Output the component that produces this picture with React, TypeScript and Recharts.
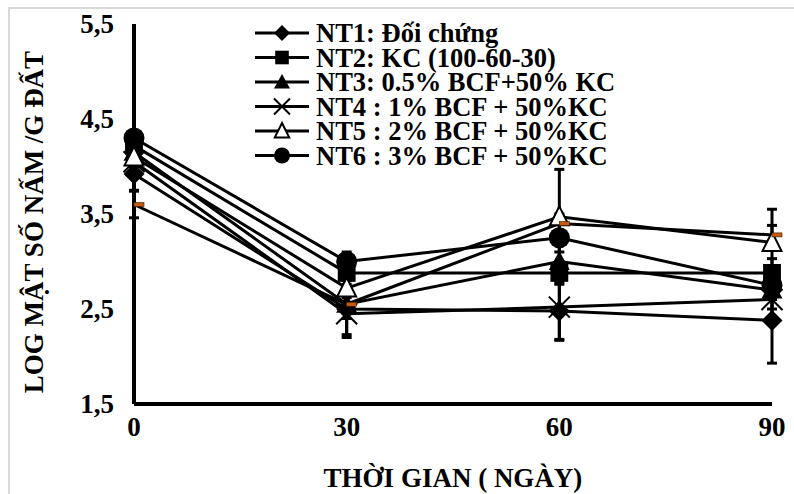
import { LineChart, Line, XAxis, YAxis, ErrorBar } from "recharts";

const DAYS = [0, 30, 60, 90];
const Y_TICKS = [1.5, 2.5, 3.5, 4.5, 5.5];

// log mật số nấm
const NT1 = [3.92, 2.5, 2.48, 2.38];
const NT2 = [4.22, 2.88, 2.88, 2.88];
const NT3 = [4.15, 2.55, 3.0, 2.7];
const NT4 = [4.05, 2.45, 2.52, 2.6];
const NT5 = [4.1, 2.72, 3.47, 3.2];
const NT6 = [4.3, 3.0, 3.25, 2.75];
const EXTRA = [3.6, 2.55, 3.4, 3.28]; // unlabeled orange dash series

const NT1_ERR = [0.17, 0.3, 0.3, 0.45];
const NT2_ERR = [0.1, 0.12, 0.12, 0.15];
const NT3_ERR = [0.1, 0.15, 0.2, 0.2];
const NT4_ERR = [0.1, 0.22, 0.35, 0.2];
const NT5_ERR = [0.1, 0.1, 0.5, 0.35];
const NT6_ERR = [0.05, 0.1, 0.15, 0.15];
const EXTRA_ERR = [0.14, 0.1, 0.1, 0.1];

const SERIES = [
  { key: "nt1", name: "NT1: Đối chứng", values: NT1, errors: NT1_ERR, marker: "diamond" },
  { key: "nt2", name: "NT2: KC (100-60-30)", values: NT2, errors: NT2_ERR, marker: "square" },
  { key: "nt3", name: "NT3: 0.5% BCF+50% KC", values: NT3, errors: NT3_ERR, marker: "triangle" },
  { key: "nt4", name: "NT4 : 1% BCF + 50%KC", values: NT4, errors: NT4_ERR, marker: "cross" },
  { key: "nt5", name: "NT5 : 2% BCF + 50%KC", values: NT5, errors: NT5_ERR, marker: "openTriangle" },
  { key: "nt6", name: "NT6 : 3% BCF + 50%KC", values: NT6, errors: NT6_ERR, marker: "circle" },
  { key: "extra", name: "", values: EXTRA, errors: EXTRA_ERR, marker: "dash" },
];

const data = DAYS.map((day, i) => {
  const row: Record<string, number> = { day };
  SERIES.forEach((s) => {
    row[s.key] = s.values[i];
    row[s.key + "Err"] = s.errors[i];
  });
  return row;
});

const FONT = "Liberation Serif, Times New Roman, serif";

function Marker({ kind, cx, cy, s }: { kind: string; cx: number; cy: number; s: number }) {
  const h = s / 2;
  switch (kind) {
    case "diamond":
      return <polygon points={`${cx},${cy - h} ${cx + h},${cy} ${cx},${cy + h} ${cx - h},${cy}`} fill="#000" />;
    case "square":
      return <rect x={cx - h * 0.85} y={cy - h * 0.85} width={s * 0.85} height={s * 0.85} fill="#000" />;
    case "triangle":
      return <polygon points={`${cx},${cy - h} ${cx + h},${cy + h * 0.8} ${cx - h},${cy + h * 0.8}`} fill="#000" />;
    case "openTriangle":
      return (
        <polygon
          points={`${cx},${cy - h} ${cx + h * 0.9},${cy + h * 0.8} ${cx - h * 0.9},${cy + h * 0.8}`}
          fill="#fff"
          stroke="#000"
          strokeWidth={2}
        />
      );
    case "cross":
      return (
        <g stroke="#000" strokeWidth={2}>
          <line x1={cx - h} y1={cy - h} x2={cx + h} y2={cy + h} />
          <line x1={cx - h} y1={cy + h} x2={cx + h} y2={cy - h} />
        </g>
      );
    case "circle":
      return <circle cx={cx} cy={cy} r={h} fill="#000" />;
    case "dash":
      return <rect x={cx} y={cy - 2} width={10} height={4} fill="#c55a11" stroke="#3a1a00" strokeWidth={0.6} />;
    default:
      return null;
  }
}

function XTick({ x, y, payload }: any) {
  return (
    <text x={x} y={y + 14} textAnchor="middle" fontFamily={FONT} fontWeight="bold" fontSize={27} fill="#000">
      {payload.value}
    </text>
  );
}

function YTick({ x, y, payload }: any) {
  return (
    <text x={x} y={y + 9} textAnchor="end" fontFamily={FONT} fontWeight="bold" fontSize={27} fill="#000">
      {Number(payload.value).toFixed(1).replace(".", ",")}
    </text>
  );
}

function renderYLabel() {
  return (
    <text
      x={43}
      y={222}
      transform="rotate(-90 43 222)"
      textAnchor="middle"
      fontFamily={FONT}
      fontWeight="bold"
      fontSize={27}
      fill="#000"
    >
      LOG MẬT SỐ NẤM /G ĐẤT
    </text>
  );
}

function renderXLabel() {
  return (
    <text x={453} y={487} textAnchor="middle" fontFamily={FONT} fontWeight="bold" fontSize={27} fill="#000">
      THỜI GIAN ( NGÀY)
    </text>
  );
}

const ROW = 24.5;
const PAD = 12;

function LegendBox() {
  return (
    <svg width={370} height={175} style={{ position: "absolute", left: 255, top: 21 - PAD }}>
      {SERIES.filter((s) => s.name).map((s, i) => (
        <g key={s.key}>
          <line x1={0} y1={PAD + 12 + i * ROW} x2={54} y2={PAD + 12 + i * ROW} stroke="#000" strokeWidth={3} />
          <Marker kind={s.marker} cx={27} cy={PAD + 12 + i * ROW} s={16} />
          <text x={61} y={PAD + 21 + i * ROW} fontFamily={FONT} fontWeight="bold" fontSize={26.5} fill="#000">
            {s.name}
          </text>
        </g>
      ))}
    </svg>
  );
}

export default function App() {
  return (
    <div
      style={{
        position: "absolute",
        left: 0,
        top: 0,
        width: 794,
        height: 494,
        background: "#fff",
        overflow: "hidden",
        fontFamily: FONT,
      }}
    >
      <div
        style={{
          position: "absolute",
          left: 8,
          top: 7,
          right: -2,
          bottom: -2,
          borderLeft: "2px solid #d9d9d9",
          borderTop: "2px solid #d9d9d9",
        }}
      />
      <LineChart width={794} height={494} data={data} margin={{ top: 24, right: 22, bottom: 0, left: 0 }}>
        <XAxis
          dataKey="day"
          type="number"
          domain={[0, 90]}
          ticks={DAYS}
          height={90}
          tickLine={false}
          tickMargin={12}
          axisLine={{ stroke: "#000", strokeWidth: 4 }}
          tick={<XTick />}
          label={renderXLabel}
        />
        <YAxis
          type="number"
          domain={[1.5, 5.5]}
          ticks={Y_TICKS}
          width={134}
          tickLine={false}
          tickMargin={14}
          allowDataOverflow
          axisLine={{ stroke: "#000", strokeWidth: 4 }}
          tick={<YTick />}
          label={renderYLabel}
        />
        {SERIES.map((s) => (
          <Line
            key={s.key}
            dataKey={s.key}
            stroke="#000"
            strokeWidth={3}
            isAnimationActive={false}
            activeDot={false}
            dot={(p: any) => <Marker key={`${s.key}-${p.index}`} kind={s.marker} cx={p.cx} cy={p.cy} s={21} />}
          >
            <ErrorBar dataKey={s.key + "Err"} width={5} strokeWidth={3} stroke="#000" direction="y" isAnimationActive={false} />
          </Line>
        ))}
      </LineChart>
      <LegendBox />
    </div>
  );
}
